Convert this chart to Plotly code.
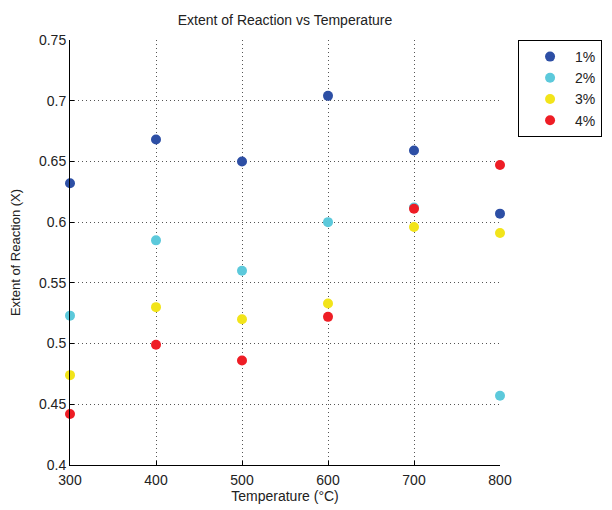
import plotly.graph_objects as go

temps = [300, 400, 500, 600, 700, 800]
s1 = [0.632, 0.668, 0.650, 0.704, 0.659, 0.607]
s2 = [0.523, 0.585, 0.560, 0.600, 0.612, 0.457]
s3 = [0.474, 0.530, 0.520, 0.533, 0.596, 0.591]
s4 = [0.442, 0.499, 0.486, 0.522, 0.611, 0.647]
names = ["1%", "2%", "3%", "4%"]
colors = ["#2D4FA5", "#5CC9DB", "#F2E41A", "#EE1D25"]
yticks = [0.4, 0.45, 0.5, 0.55, 0.6, 0.65, 0.7, 0.75]
ytext = ["0.4", "0.45", "0.5", "0.55", "0.6", "0.65", "0.7", "0.75"]
xticks = [300, 400, 500, 600, 700, 800]

fig = go.Figure()
for name, vals, c in zip(names, [s1, s2, s3, s4], colors):
    fig.add_trace(go.Scatter(x=temps, y=vals, mode="markers", name=name,
                             marker=dict(color=c, size=10, line=dict(width=0)),
                             cliponaxis=False))

font = dict(family="Liberation Sans, Arial, sans-serif", size=13, color="#222222")
fig.update_layout(
    width=612, height=510,
    margin=dict(l=62, r=120, t=32, b=53, autoexpand=False),
    paper_bgcolor="white", plot_bgcolor="white",
    font=font,
    title=dict(text="Extent of Reaction vs Temperature", x=0.5, xref="paper",
               xanchor="center", y=1, yref="container", yanchor="top", pad=dict(t=7),
               font=dict(size=14)),
    showlegend=True,
    legend=dict(x=1.042, y=1, xanchor="left", yanchor="top",
                bordercolor="black", borderwidth=1, bgcolor="white",
                font=dict(size=14), itemwidth=40, indentation=6, tracegroupgap=4),
)
grid = dict(showgrid=True, gridcolor="#555555", griddash="1px,3px", gridwidth=1)
fig.update_xaxes(range=[300, 800], tickvals=xticks, showline=True, linecolor="black",
                 linewidth=1, mirror=False, ticks="inside", ticklen=4, tickcolor="black",
                 zeroline=False, automargin=False, tickfont=dict(size=14),
                 ticklabelstandoff=2,
                 title=dict(text="Temperature (°C)", standoff=4, font=dict(size=14)),
                 **grid)
fig.update_yaxes(range=[0.4, 0.75], tickvals=yticks, ticktext=ytext, showline=True,
                 linecolor="black", linewidth=1, mirror=False, ticks="inside",
                 ticklen=4, tickcolor="black", tickfont=dict(size=14),
                 zeroline=False, automargin=False,
                 title=dict(text="Extent of Reaction (X)", standoff=22, font=dict(size=13)),
                 **grid)

fig.write_html("out.html")
